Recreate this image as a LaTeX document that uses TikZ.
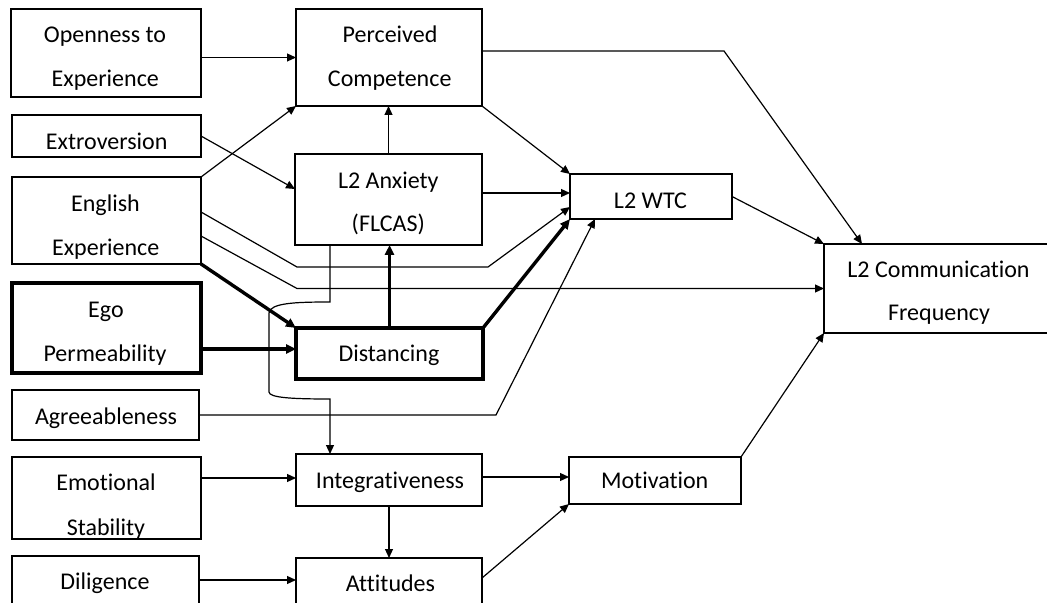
\documentclass[tikz,border=0pt]{standalone}
\usepackage{fontspec}
\setmainfont{Carlito}[Ligatures={NoCommon}]
\usetikzlibrary{arrows.meta}
\begin{document}
\begin{tikzpicture}[x=0.5pt,y=-0.5pt,
  box/.style={draw,line width=0.6pt,inner sep=0pt,outer sep=0pt,rectangle},
  boxthick/.style={box,line width=1.8pt},
  txt/.style={font=\fontsize{12}{14}\selectfont,anchor=base,inner sep=0pt},
  arr/.style={line width=0.6pt,-{Triangle[length=4.5pt,width=4pt]}},
  tarr/.style={line width=1.7pt,-{Triangle[length=5pt,width=4.5pt]}}]
\useasboundingbox (0,0) rectangle (1047,603);
\clip (0,0) rectangle (1047,603);
% boxes
\node[box,minimum width=95pt,minimum height=44pt] (open) at (106,53) {};
\node[box,minimum width=94.5pt,minimum height=21pt] (extro) at (106.5,136) {};
\node[box,minimum width=94.5pt,minimum height=43.5pt] (eng) at (106.5,220.5) {};
\node[boxthick,minimum width=94.5pt,minimum height=45pt] (ego) at (106.5,328) {};
\node[box,minimum width=93.5pt,minimum height=25pt] (agree) at (105.5,415) {};
\node[box,minimum width=94.5pt,minimum height=41pt] (emo) at (106.5,498) {};
\node[box,minimum width=93.5pt,minimum height=26pt] (dil) at (105.5,582) {};
\node[box,minimum width=93pt,minimum height=48.5pt] (pc) at (389,57.5) {};
\node[box,minimum width=93.5pt,minimum height=45.5pt] (anx) at (388.5,199.5) {};
\node[boxthick,minimum width=93.5pt,minimum height=25.5pt] (dist) at (389.5,353.5) {};
\node[box,minimum width=93pt,minimum height=26pt] (integ) at (389,480) {};
\node[box,minimum width=93pt,minimum height=25pt] (att) at (389,583) {};
\node[box,minimum width=81pt,minimum height=22.5pt] (wtc) at (651,196.5) {};
\node[box,minimum width=86pt,minimum height=23.5pt] (mot) at (655,480.5) {};
\node[box,minimum width=114pt,minimum height=44.5pt] (comm) at (938,288.5) {};
% texts
\node[txt] (open1) at (105,43) {Openness to};
\node[txt] (open2) at (105.3,87) {Experience};
\node[txt] (extro1) at (106.7,149.5) {Extroversion};
\node[txt] (eng1) at (105.5,211.7) {English};
\node[txt] (eng2) at (105.7,255.7) {Experience};
\node[txt] (ego1) at (106,318) {Ego};
\node[txt] (ego2) at (105,361.7) {Permeability};
\node[txt] (agree1) at (106,424.3) {Agreeableness};
\node[txt] (emo1) at (106,490.7) {Emotional};
\node[txt] (emo2) at (106,535) {Stability};
\node[txt] (dil1) at (105,589.3) {Diligence};
\node[txt] (pc1) at (390,42.7) {Perceived};
\node[txt] (pc2) at (389.7,86.7) {Competence};
\node[txt] (anx1) at (388.3,188.3) {L2 Anxiety};
\node[txt] (anx2) at (388.3,231.7) {(FLCAS)};
\node[txt] (dist1) at (389,361.7) {Distancing};
\node[txt] (integ1) at (390,488.3) {Integrativeness};
\node[txt] (att1) at (390.5,591) {Attitudes};
\node[txt] (wtc1) at (650.5,208.3) {L2 WTC};
\node[txt] (comm1) at (938.5,277.3) {L2 Communication};
\node[txt] (comm2) at (939,320.7) {Frequency};
\node[txt] (mot1) at (654.7,488.3) {Motivation};
% helper coordinates
\coordinate (e3) at (0,189);
\coordinate (e1s) at (0,212);
\coordinate (e1a) at (297,267);
\coordinate (e1b) at (488,267);
\coordinate (e1t) at (0,207);
\coordinate (e2s) at (0,236);
\coordinate (e2a) at (297,288.5);
\coordinate (egoy) at (0,349);
\coordinate (ay) at (0,193);
\coordinate (ag1) at (496,415);
\coordinate (ag2) at (595,0);
\coordinate (d0) at (330,0);
\coordinate (d1) at (330,302);
\coordinate (d2) at (269,313);
\coordinate (d3) at (269,392);
\coordinate (d4) at (330,399);
\coordinate (emy) at (0,478);
\coordinate (dily) at (0,580);
\coordinate (imy) at (0,477);
\coordinate (atty) at (0,578);
\coordinate (p1) at (724,51);
\coordinate (p2) at (862,0);
% connectors
\draw[arr] (open.east |- pc.west) -- (pc.west);
\draw[arr] (eng.north east) -- (pc.south west);
\draw[arr] (extro.east) -- (anx.west |- e3);
\draw[arr] (eng.east |- e1s) -- (e1a) -- (e1b) -- (wtc.west |- e1t);
\draw[arr] (eng.east |- e2s) -- (e2a) -- (comm.west);
\draw[tarr] (eng.south east) -- (dist.north west);
\draw[tarr] (ego.east |- egoy) -- (dist.west |- egoy);
\draw[tarr] (dist.north) -- (dist.north |- anx.south);
\draw[arr] (anx.north) -- (anx.north |- pc.south);
\draw[arr] (pc.south east) -- (wtc.north west);
\draw[arr] (anx.east |- ay) -- (wtc.west |- ay);
\draw[tarr] (dist.north east) -- (wtc.south west);
\draw[arr] (agree.east) -- (ag1) -- (wtc.south -| ag2);
\draw[arr] (anx.south -| d0) -- (d1) .. controls (295,302) and (270,303) .. (d2) -- (d3) .. controls (269,398) and (295,399) .. (d4) -- (integ.north -| d4);
\draw[arr] (emo.east |- emy) -- (integ.west |- emy);
\draw[arr] (dil.east |- dily) -- (att.west |- dily);
\draw[arr] (integ.south) -- (att.north);
\draw[arr] (integ.east |- imy) -- (mot.west |- imy);
\draw[arr] (att.east |- atty) -- (mot.south west);
\draw[arr] (mot.north east) -- (comm.south west);
\draw[arr] (wtc.east) -- (comm.north west);
\draw[arr] (pc.east |- p1) -- (p1) -- (comm.north -| p2);
\end{tikzpicture}
\end{document}
